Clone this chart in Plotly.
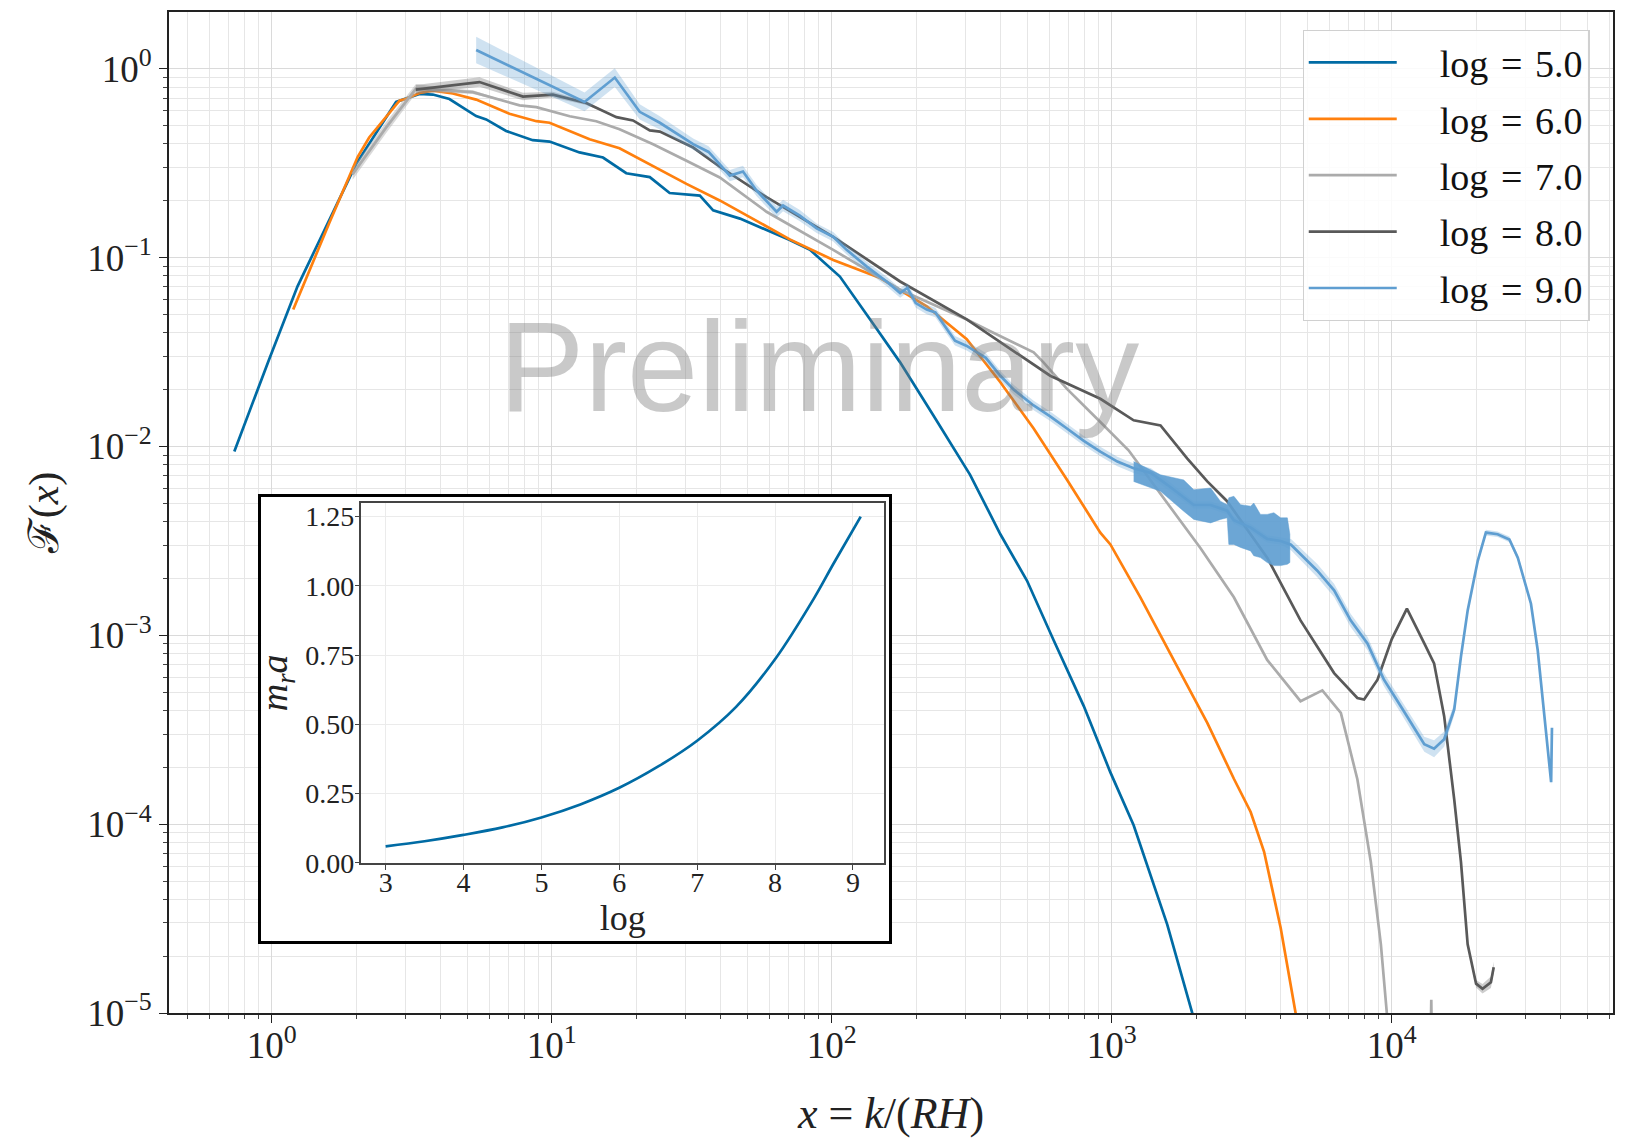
import plotly.graph_objects as go

# ---------------- data ----------------
x5 = [0.735, 0.979, 1.236, 2.000, 2.780, 3.370, 3.760, 4.310, 5.370, 5.830,
      6.870, 8.550, 9.820, 12.56, 15.24, 18.45, 22.39, 26.36, 33.80, 37.70,
      47.00, 70.80, 83.60, 106.9, 137.1, 175.4, 230.7, 311.9, 400.0, 497.7,
      619.4, 794.3, 988.6, 1197, 1578, 1923, 2042]
y5 = [0.00942, 0.0290, 0.0705, 0.313, 0.668, 0.736, 0.731, 0.692, 0.562, 0.540,
      0.469, 0.419, 0.412, 0.361, 0.339, 0.280, 0.267, 0.220, 0.213, 0.178,
      0.161, 0.124, 0.110, 0.0794, 0.0471, 0.0279, 0.0146, 0.00708, 0.00343, 0.00195,
      0.000944, 0.000422, 0.000188, 9.86e-5, 2.94e-5, 1.01e-5, 7.6e-6]

x6 = [1.193, 1.603, 2.028, 2.228, 2.858, 3.020, 3.370, 3.760, 4.430, 5.370,
      7.060, 8.810, 9.820, 13.65, 17.46, 22.39, 30.27, 39.80, 70.80, 101.2,
      148.9, 218.3, 303.4, 400.0, 526.0, 691.8, 909.9, 988.6, 1265, 1663,
      2193, 2729, 3133, 3499, 4009, 4529, 4677]
y6 = [0.0532, 0.152, 0.342, 0.433, 0.679, 0.695, 0.745, 0.766, 0.740, 0.687,
      0.578, 0.528, 0.518, 0.424, 0.380, 0.313, 0.246, 0.201, 0.125, 0.0973,
      0.0780, 0.0553, 0.0370, 0.0219, 0.01245, 0.00667, 0.00350, 0.00303, 0.00159, 0.000741,
      0.000344, 0.000174, 0.000116, 7.14e-5, 2.83e-5, 1.01e-5, 7.9e-6]

x7 = [1.945, 2.559, 3.273, 3.864, 5.224, 7.674, 8.810, 11.59, 14.42, 17.46,
      23.01, 30.27, 39.81, 58.48, 101.2, 175.4, 303.4, 368.1, 526.0, 570.2,
      691.8, 909.9, 1148, 1413, 2075, 2729, 3589, 4721, 5649, 6577,
      7534, 8414, 9141, 9594, 10000, 13490, 13836, 14125]
y7 = [0.277, 0.488, 0.785, 0.776, 0.753, 0.641, 0.627, 0.561, 0.528, 0.479,
      0.399, 0.326, 0.266, 0.175, 0.110, 0.0676, 0.0471, 0.0408, 0.0315, 0.0279,
      0.0202, 0.01349, 0.00955, 0.00627, 0.00289, 0.00159, 0.000741, 0.000448, 0.000511, 0.000388,
      0.000173, 6.32e-5, 2.31e-5, 1.01e-5, 3.98e-6, 1e-6, 1.175e-5, 1e-6]
err7 = [0.03, 0.03, 0.025, 0.015, 0.01] + [0.0] * 33

x8 = [3.27, 5.52, 7.89, 10.09, 13.27, 17.02, 19.50, 22.39, 24.32, 31.99,
      39.8, 58.5, 101.2, 175.4, 303.4, 602.6, 909.9, 1197, 1493, 1858,
      2193, 2582, 3589, 4721, 6223, 7534, 7962, 8892, 10000, 11324,
      13062, 14158, 15382, 16711, 17660, 18660, 20000, 21090, 22590, 23120]
y8 = [0.776, 0.851, 0.713, 0.730, 0.659, 0.555, 0.533, 0.472, 0.465, 0.383,
      0.303, 0.209, 0.129, 0.0748, 0.0471, 0.0237, 0.0179, 0.01377, 0.01294, 0.00865,
      0.00653, 0.00513, 0.00258, 0.00120, 0.000631, 0.000466, 0.000457, 0.000582, 0.000955, 0.001384,
      0.000906, 0.000711, 0.000373, 0.000135, 6.32e-5, 2.31e-5, 1.43e-5, 1.343e-5, 1.455e-5, 1.746e-5]
err8 = [0.025, 0.025, 0.02, 0.015, 0.01] + [0.0] * 30 + [0.015, 0.02, 0.025, 0.03, 0.03]

x9 = [5.370, 13.09, 16.79, 20.61, 24.32, 31.99, 36.31, 43.25, 48.19, 53.83,
      63.53, 66.99, 76.91, 88.31, 101.2, 113.0, 133.4, 157.0, 175.4, 186.2,
      199.5, 218.3, 234.4, 257.6, 275.4, 303.4, 354.8, 400.0, 446.7, 526.0,
      602.6, 691.8, 794.3, 909.9, 1047, 1197, 1380, 1578, 1963, 2254,
      2582, 2729, 3133, 3589, 4009, 4365, 5420, 6223, 7129, 8185,
      9376, 10765, 13062, 14158, 15382, 16711, 17660, 18664, 20277, 21677,
      23878, 26303, 28184, 31405, 33189, 35075, 36559, 37068, 37325]
y9 = [1.259, 0.668, 0.899, 0.592, 0.518, 0.399, 0.363, 0.272, 0.286, 0.227,
      0.175, 0.189, 0.167, 0.143, 0.129, 0.110, 0.0897, 0.0748, 0.0650, 0.0692,
      0.0575, 0.0531, 0.0513, 0.0417, 0.0363, 0.0341, 0.0295, 0.0237, 0.0200, 0.0165,
      0.01445, 0.01245, 0.01072, 0.00940, 0.00832, 0.00767, 0.00724, 0.00627, 0.00490, 0.00490,
      0.00457, 0.00407, 0.00372, 0.00324, 0.00316, 0.00302, 0.00220, 0.00173, 0.00120, 0.000906,
      0.000582, 0.000421, 0.000265, 0.000251, 0.000282, 0.000405, 0.000771, 0.001355, 0.00248, 0.00350,
      0.00343, 0.00322, 0.00258, 0.00147, 0.000836, 0.000373, 0.000212, 0.000167, 0.000324]
err9 = [0.07, 0.05, 0.05, 0.04, 0.035, 0.03, 0.03, 0.03, 0.03, 0.03,
        0.03, 0.03, 0.03, 0.025, 0.025, 0.025, 0.025, 0.025, 0.025, 0.025,
        0.025, 0.025, 0.025, 0.025, 0.025, 0.025, 0.025, 0.025, 0.025, 0.025,
        0.025, 0.025, 0.025, 0.025, 0.025, 0.025, 0.025, 0.025, 0.02, 0.02,
        0.02, 0.02, 0.02, 0.02, 0.02, 0.03, 0.035, 0.035, 0.035, 0.035,
        0.035, 0.035, 0.04, 0.045, 0.04, 0.03, 0.02, 0.015, 0.015, 0.015,
        0.015, 0.015, 0.015, 0.015, 0.015, 0.015, 0.015, 0.015, 0.015]

# oscillation envelope of the log = 9.0 curve (dense noisy region)
xn = [1197, 1493, 1807, 1963, 2254, 2443, 2582, 2618, 2729, 2884,
      3133, 3214, 3396, 3589, 3793, 4009, 4236, 4325]
yn_hi = [0.00832, 0.00708, 0.00665, 0.00590, 0.00603, 0.00513, 0.00492, 0.00535, 0.00545, 0.00492,
         0.00483, 0.00502, 0.00437, 0.00437, 0.00446, 0.00419, 0.00419, 0.00343]
yn_lo = [0.00653, 0.00579, 0.00454, 0.00411, 0.00394, 0.00411, 0.00419, 0.00303, 0.00303, 0.00292,
         0.00280, 0.00264, 0.00258, 0.00243, 0.00234, 0.00234, 0.00238, 0.00243]

# inset: m_r a versus log
inset_log = [3.0, 3.5, 4.0, 4.5, 5.0, 5.5, 6.0, 6.5, 7.0, 7.5, 8.0, 8.5, 8.75, 9.1]
inset_mra = [0.0595, 0.078, 0.101, 0.128, 0.164, 0.211, 0.271, 0.348, 0.441, 0.563, 0.735, 0.955, 1.08, 1.25]

names = ["log = 5.0", "log = 6.0", "log = 7.0", "log = 8.0", "log = 9.0"]
colors = ["#006BA4", "#FF800E", "#ABABAB", "#595959", "#5F9ED1"]
band_colors = ["rgba(0,107,164,0.3)", "rgba(255,128,14,0.3)", "rgba(171,171,171,0.45)",
               "rgba(89,89,89,0.3)", "rgba(95,158,209,0.3)"]

x_major = [1, 10, 100, 1000, 10000]
x_major_text = ["10<sup>0</sup>", "10<sup>1</sup>", "10<sup>2</sup>", "10<sup>3</sup>", "10<sup>4</sup>"]
y_major = [1e-5, 1e-4, 1e-3, 1e-2, 1e-1, 1]
y_major_text = ["10<sup>\u22125</sup>", "10<sup>\u22124</sup>", "10<sup>\u22123</sup>",
                "10<sup>\u22122</sup>", "10<sup>\u22121</sup>", "10<sup>0</sup>"]
inset_xticks = [3, 4, 5, 6, 7, 8, 9]
inset_yticks = [0.0, 0.25, 0.5, 0.75, 1.0, 1.25]

# ---------------- figure ----------------
SERIF = "Liberation Serif, DejaVu Serif, serif"
fig = go.Figure()


def add_band(x, y, err, color):
    hi = [v * 10 ** e for v, e in zip(y, err)]
    lo = [v / 10 ** e for v, e in zip(y, err)]
    fig.add_trace(go.Scatter(x=list(x) + list(x)[::-1], y=hi + lo[::-1], mode="lines",
                             fill="toself", fillcolor=color, line=dict(width=0),
                             hoverinfo="skip", showlegend=False))


def legend_label(name):
    # widen the label like the LaTeX rendering (space before and around "=")
    return "\u2002\u2002" + name.replace(" = ", "\u2004=\u2004")


series = [(x5, y5, None), (x6, y6, None), (x7, y7, err7), (x8, y8, err8), (x9, y9, err9)]
for i, (xs, ys, err) in enumerate(series):
    if err is not None:
        add_band(xs, ys, err, band_colors[i])
    if i == 4:
        fig.add_trace(go.Scatter(x=xn + xn[::-1], y=yn_hi + yn_lo[::-1], mode="lines",
                                 fill="toself", fillcolor="rgba(95,158,209,0.92)",
                                 line=dict(width=0.8, color="rgba(95,158,209,0.6)"),
                                 hoverinfo="skip", showlegend=False))
    fig.add_trace(go.Scatter(x=xs, y=ys, mode="lines", name=legend_label(names[i]),
                             legendgroup="g%d" % i,
                             line=dict(color=colors[i], width=2.7)))

# frame of the inset (own subplot so its white background covers the main grid)
fig.add_trace(go.Scatter(x=[], y=[], xaxis="x2", yaxis="y2", showlegend=False, hoverinfo="skip"))
# inset curve
fig.add_trace(go.Scatter(x=inset_log, y=inset_mra, xaxis="x3", yaxis="y3", mode="lines",
                         line=dict(color="#006BA4", width=2.7, shape="spline"),
                         showlegend=False))

x_minor = [m * 10 ** k for k in range(-1, 5) for m in range(2, 10)]
y_minor = [m * 10.0 ** k for k in range(-5, 0) for m in range(2, 10)]

GRID = "#dadada"
GRID_MINOR = "#e6e6e6"
fig.update_layout(
    width=1625, height=1139,
    margin=dict(l=169, r=10, t=10, b=120),
    paper_bgcolor="white", plot_bgcolor="white",
    font=dict(family=SERIF, color="#222"),
    showlegend=True,
    legend=dict(x=0.785, y=0.982, xanchor="left", yanchor="top",
                bgcolor="rgba(255,255,255,0.85)", bordercolor="#d0d0d0", borderwidth=1.2,
                font=dict(family=SERIF, size=38, color="#111"), itemwidth=88,
                tracegroupgap=4),
    xaxis=dict(type="log", range=[-0.367, 4.79], tickmode="array", tickvals=x_major,
               ticktext=x_major_text, ticks="outside", ticklen=8, tickwidth=1.3, tickcolor="#222",
               tickfont=dict(size=37, family=SERIF, color="#222"), ticklabelstandoff=-9,
               showgrid=True, gridcolor=GRID, gridwidth=1,
               minor=dict(tickmode="array", tickvals=x_minor, ticks="outside", ticklen=4,
                          tickwidth=1, tickcolor="#444", showgrid=True, gridcolor=GRID_MINOR),
               showline=True, mirror=True, linecolor="#222", linewidth=1.6, zeroline=False,
               title=dict(text="<i>x</i> = <i>k</i>/(<i>RH</i>)", font=dict(size=44, family=SERIF),
                          standoff=32)),
    yaxis=dict(type="log", range=[-5, 0.301], tickmode="array", tickvals=y_major,
               ticktext=y_major_text, ticks="outside", ticklen=8, tickwidth=1.3, tickcolor="#222",
               tickfont=dict(size=37, family=SERIF, color="#222"),
               showgrid=True, gridcolor=GRID, gridwidth=1,
               minor=dict(tickmode="array", tickvals=y_minor, ticks="outside", ticklen=4,
                          tickwidth=1, tickcolor="#444", showgrid=True, gridcolor=GRID_MINOR),
               showline=True, mirror=True, linecolor="#222", linewidth=1.6, zeroline=False,
               title=dict(text="\u2131(<i>x</i>)", font=dict(size=42, family=SERIF), standoff=16)),
    xaxis2=dict(domain=[0.0638, 0.4988], anchor="y2", range=[0, 1], showgrid=False, zeroline=False,
                showticklabels=False, ticks="", showline=True, mirror=True, linecolor="black",
                linewidth=3, fixedrange=True),
    yaxis2=dict(domain=[0.0722, 0.5159], anchor="x2", range=[0, 1], showgrid=False, zeroline=False,
                showticklabels=False, ticks="", showline=True, mirror=True, linecolor="black",
                linewidth=3, fixedrange=True),
    xaxis3=dict(domain=[0.1333, 0.4952], anchor="y3", range=[2.69, 9.40], tickmode="array",
                tickvals=inset_xticks, ticks="outside", ticklen=5, tickcolor="#444",
                tickfont=dict(size=28, family=SERIF, color="#222"), ticklabelstandoff=-11,
                showgrid=True, gridcolor="#ebebeb", zeroline=False,
                showline=True, mirror=True, linecolor="#444", linewidth=1.5,
                title=dict(text="log", font=dict(size=36, family=SERIF), standoff=2)),
    yaxis3=dict(domain=[0.150, 0.5097], anchor="x3", range=[0, 1.30], tickmode="array",
                tickvals=inset_yticks, tickformat=".2f", ticks="outside", ticklen=5, tickcolor="#444",
                tickfont=dict(size=28, family=SERIF, color="#222"), ticklabelstandoff=-5,
                showgrid=True, gridcolor="#ebebeb", zeroline=False,
                showline=True, mirror=True, linecolor="#444", linewidth=1.5,
                title=dict(text="<i>m<sub>r</sub>a</i>", font=dict(size=38, family=SERIF), standoff=6)),
    annotations=[dict(text="Preliminary", xref="paper", yref="paper", x=0.450, y=0.646,
                      xanchor="center", yanchor="middle", showarrow=False,
                      font=dict(family="Liberation Sans, Arial, sans-serif", size=128,
                                color="rgba(120,120,120,0.40)"))],
)

fig.write_html("out.html")
